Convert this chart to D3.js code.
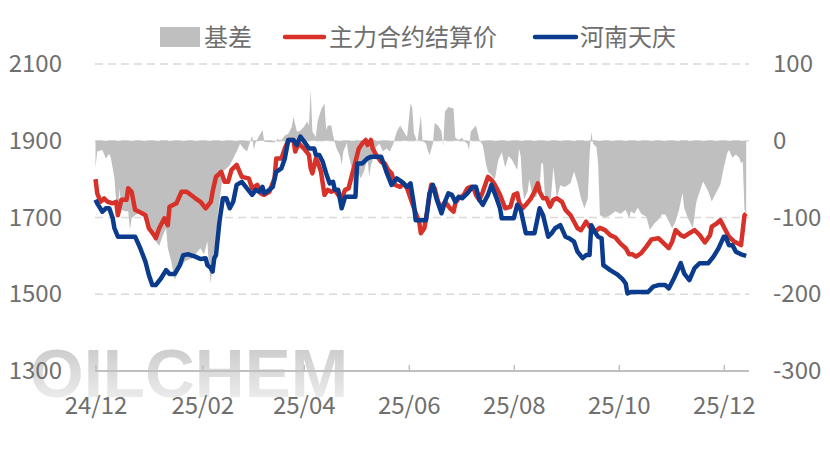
<!DOCTYPE html>
<html>
<head>
<meta charset="utf-8">
<script src="https://cdn.jsdelivr.net/npm/d3@7"></script>
<style>
  html, body { margin: 0; padding: 0; background: #fff; }
  svg { display: block; font-family: "Noto Sans CJK SC", "Noto Sans", sans-serif; }
</style>
</head>
<body>
<svg id="chart" width="830" height="451"></svg>
<script>
// 系列名称
const seriesNames = ["基差", "主力合约结算价", "河南天庆"];

// 基差 (right axis)
const basis = [
  ["2024-12-02",-35],["2024-12-03",-14],["2024-12-06",-12],["2024-12-08",-23],["2024-12-10",-17],
  ["2024-12-11",-23],["2024-12-13",-49],["2024-12-14",-79],["2024-12-15",-97],["2024-12-16",-62],
  ["2024-12-17",-90],["2024-12-19",-92],["2024-12-21",-92],["2024-12-22",-116],["2024-12-23",-101],
  ["2024-12-25",-97],["2024-12-29",-92],["2024-12-31",-105],["2025-01-03",-118],["2025-01-06",-131],
  ["2025-01-08",-137],["2025-01-10",-124],["2025-01-12",-114],["2025-01-13",-140],["2025-01-15",-157],
  ["2025-01-17",-181],["2025-01-20",-168],["2025-01-23",-157],["2025-01-27",-153],["2025-02-01",-140],
  ["2025-02-03",-148],["2025-02-05",-131],["2025-02-06",-166],["2025-02-07",-186],["2025-02-08",-157],
  ["2025-02-10",-131],["2025-02-11",-97],["2025-02-13",-62],["2025-02-14",-40],["2025-02-16",-36],
  ["2025-02-18",-32],["2025-02-20",-23],["2025-02-22",-14],["2025-02-24",-4],["2025-02-26",-10],
  ["2025-02-28",-14],["2025-03-02",0],["2025-03-03",7],["2025-03-04",-12],["2025-03-05",-2],
  ["2025-03-09",14],["2025-03-10",-1],["2025-03-13",-2],["2025-03-16",-2],["2025-03-18",3],
  ["2025-03-19",-2],["2025-03-22",7],["2025-03-24",9],["2025-03-26",18],["2025-03-27",31],
  ["2025-03-29",12],["2025-03-31",13],["2025-04-02",18],["2025-04-04",25],["2025-04-05",20],
  ["2025-04-06",66],["2025-04-07",12],["2025-04-09",5],["2025-04-10",25],["2025-04-12",40],
  ["2025-04-14",49],["2025-04-15",14],["2025-04-16",20],["2025-04-18",20],["2025-04-19",7],
  ["2025-04-21",-10],["2025-04-23",-19],["2025-04-24",-32],["2025-04-25",-14],["2025-04-27",-3],
  ["2025-04-28",-19],["2025-04-30",-36],["2025-05-01",-62],["2025-05-02",-79],["2025-05-03",-36],
  ["2025-05-05",-49],["2025-05-07",-40],["2025-05-09",-23],["2025-05-10",-47],["2025-05-11",-32],
  ["2025-05-13",-19],["2025-05-14",-8],["2025-05-16",-4],["2025-05-18",-14],["2025-05-20",-10],
  ["2025-05-22",-14],["2025-05-24",-4],["2025-05-26",12],["2025-05-28",20],["2025-05-30",12],
  ["2025-06-01",5],["2025-06-03",49],["2025-06-04",43],["2025-06-05",10],["2025-06-07",-2],
  ["2025-06-09",33],["2025-06-10",0],["2025-06-12",-4],["2025-06-13",-12],["2025-06-14",-19],
  ["2025-06-16",-4],["2025-06-17",23],["2025-06-19",20],["2025-06-21",12],["2025-06-22",-7],
  ["2025-06-23",38],["2025-06-25",44],["2025-06-28",42],["2025-06-29",4],["2025-07-01",1],
  ["2025-07-03",4],["2025-07-04",0],["2025-07-06",-4],["2025-07-07",-12],["2025-07-08",12],
  ["2025-07-11",20],["2025-07-13",1],["2025-07-15",-6],["2025-07-17",-32],["2025-07-18",-40],
  ["2025-07-20",-45],["2025-07-22",-50],["2025-07-24",-25],["2025-07-26",-15],["2025-07-28",-35],
  ["2025-07-30",-20],["2025-08-01",-25],["2025-08-04",-38],["2025-08-05",-10],["2025-08-06",-20],
  ["2025-08-07",-60],["2025-08-08",-77],["2025-08-10",-66],["2025-08-11",-50],["2025-08-13",-75],
  ["2025-08-15",-73],["2025-08-17",-60],["2025-08-18",-29],["2025-08-19",-30],["2025-08-20",-70],
  ["2025-08-22",-85],["2025-08-23",-90],["2025-08-25",-34],["2025-08-27",-75],["2025-08-29",-58],
  ["2025-08-31",-60],["2025-09-01",-60],["2025-09-04",-55],["2025-09-06",-40],["2025-09-08",-55],
  ["2025-09-10",-75],["2025-09-12",-88],["2025-09-14",-75],["2025-09-15",-20],["2025-09-16",12],
  ["2025-09-17",-4],["2025-09-19",-8],["2025-09-20",-30],["2025-09-21",-97],["2025-09-24",-100],
  ["2025-09-27",-97],["2025-09-30",-92],["2025-10-03",-95],["2025-10-06",-90],["2025-10-08",-101],
  ["2025-10-09",-92],["2025-10-11",-95],["2025-10-13",-87],["2025-10-15",-95],["2025-10-18",-99],
  ["2025-10-20",-116],["2025-10-23",-107],["2025-10-25",-103],["2025-10-27",-96],["2025-10-29",-96],
  ["2025-10-31",-105],["2025-11-02",-114],["2025-11-04",-105],["2025-11-06",-90],["2025-11-08",-68],
  ["2025-11-09",-88],["2025-11-11",-100],["2025-11-14",-114],["2025-11-16",-80],["2025-11-18",-66],
  ["2025-11-20",-53],["2025-11-23",-66],["2025-11-25",-79],["2025-11-27",-70],["2025-11-30",-57],
  ["2025-12-02",-35],["2025-12-04",-16],["2025-12-05",-12],["2025-12-07",-22],["2025-12-09",-18],
  ["2025-12-11",-22],["2025-12-12",-29],["2025-12-13",-27],["2025-12-14",-90],["2025-12-15",-95]
];

// 主力合约结算价 (left axis)
const futures = [
  ["2024-12-02",1800],["2024-12-03",1763],["2024-12-05",1741],["2024-12-07",1750],["2024-12-09",1741],
  ["2024-12-12",1737],["2024-12-14",1741],["2024-12-15",1706],["2024-12-17",1746],["2024-12-20",1746],
  ["2024-12-21",1776],["2024-12-23",1767],["2024-12-25",1720],["2024-12-29",1711],["2024-12-31",1706],
  ["2025-01-02",1672],["2025-01-05",1654],["2025-01-06",1646],["2025-01-08",1672],["2025-01-11",1698],
  ["2025-01-13",1680],["2025-01-14",1728],["2025-01-18",1737],["2025-01-21",1767],["2025-01-24",1767],
  ["2025-01-29",1750],["2025-02-01",1741],["2025-02-04",1724],["2025-02-07",1741],["2025-02-08",1767],
  ["2025-02-10",1806],["2025-02-13",1819],["2025-02-15",1793],["2025-02-17",1793],["2025-02-19",1824],
  ["2025-02-22",1837],["2025-02-25",1806],["2025-03-01",1802],["2025-03-03",1776],["2025-03-06",1785],
  ["2025-03-08",1763],["2025-03-10",1759],["2025-03-13",1767],["2025-03-16",1802],["2025-03-17",1854],
  ["2025-03-20",1854],["2025-03-22",1880],["2025-03-24",1902],["2025-03-27",1902],["2025-03-28",1872],
  ["2025-03-30",1893],["2025-04-02",1880],["2025-04-05",1863],["2025-04-06",1828],["2025-04-07",1815],
  ["2025-04-09",1854],["2025-04-10",1845],["2025-04-12",1819],["2025-04-14",1759],["2025-04-16",1772],
  ["2025-04-18",1767],["2025-04-20",1772],["2025-04-22",1759],["2025-04-24",1750],["2025-04-26",1772],
  ["2025-04-28",1776],["2025-05-01",1828],["2025-05-04",1880],["2025-05-06",1893],["2025-05-08",1902],
  ["2025-05-09",1889],["2025-05-11",1902],["2025-05-12",1880],["2025-05-14",1863],["2025-05-17",1845],
  ["2025-05-19",1841],["2025-05-21",1824],["2025-05-23",1815],["2025-05-25",1785],["2025-05-28",1780],
  ["2025-05-30",1789],["2025-06-01",1776],["2025-06-03",1750],["2025-06-05",1724],["2025-06-08",1689],
  ["2025-06-09",1659],["2025-06-11",1672],["2025-06-13",1724],["2025-06-15",1785],["2025-06-17",1776],
  ["2025-06-19",1741],["2025-06-21",1724],["2025-06-23",1741],["2025-06-26",1724],["2025-06-28",1715],
  ["2025-06-29",1737],["2025-07-01",1750],["2025-07-04",1759],["2025-07-06",1776],["2025-07-08",1780],
  ["2025-07-10",1772],["2025-07-11",1759],["2025-07-13",1746],["2025-07-15",1767],["2025-07-18",1806],
  ["2025-07-20",1798],["2025-07-22",1785],["2025-07-25",1759],["2025-07-28",1724],["2025-07-31",1728],
  ["2025-08-02",1759],["2025-08-04",1763],["2025-08-05",1741],["2025-08-07",1724],["2025-08-09",1733],
  ["2025-08-12",1750],["2025-08-14",1767],["2025-08-16",1789],["2025-08-17",1767],["2025-08-19",1750],
  ["2025-08-21",1750],["2025-08-23",1728],["2025-08-25",1746],["2025-08-27",1750],["2025-08-30",1741],
  ["2025-09-01",1720],["2025-09-04",1706],["2025-09-06",1689],["2025-09-08",1672],["2025-09-10",1667],
  ["2025-09-13",1689],["2025-09-15",1676],["2025-09-18",1663],["2025-09-21",1673],["2025-09-24",1667],
  ["2025-09-27",1654],["2025-09-30",1648],["2025-10-03",1632],["2025-10-06",1620],["2025-10-08",1604],
  ["2025-10-10",1604],["2025-10-12",1598],["2025-10-15",1607],["2025-10-18",1624],["2025-10-21",1643],
  ["2025-10-25",1646],["2025-10-28",1633],["2025-10-31",1620],["2025-11-02",1637],["2025-11-04",1667],
  ["2025-11-07",1654],["2025-11-09",1650],["2025-11-12",1659],["2025-11-15",1667],["2025-11-18",1654],
  ["2025-11-21",1635],["2025-11-24",1654],["2025-11-25",1676],["2025-11-28",1685],["2025-11-30",1693],
  ["2025-12-03",1667],["2025-12-05",1650],["2025-12-08",1637],["2025-12-10",1633],["2025-12-12",1628],
  ["2025-12-14",1706],["2025-12-15",1710]
];

// 河南天庆 (left axis)
const spot = [
  ["2024-12-02",1746],["2024-12-03",1737],["2024-12-06",1715],["2024-12-08",1724],["2024-12-10",1724],
  ["2024-12-12",1698],["2024-12-13",1672],["2024-12-15",1650],["2024-12-25",1650],["2024-12-28",1620],
  ["2024-12-31",1585],["2025-01-02",1550],["2025-01-04",1524],["2025-01-06",1524],["2025-01-09",1541],
  ["2025-01-12",1563],["2025-01-14",1553],["2025-01-17",1553],["2025-01-20",1576],["2025-01-22",1602],
  ["2025-01-25",1604],["2025-01-29",1598],["2025-02-01",1592],["2025-02-04",1594],["2025-02-05",1576],
  ["2025-02-07",1568],["2025-02-08",1559],["2025-02-09",1594],["2025-02-10",1602],["2025-02-12",1689],
  ["2025-02-14",1750],["2025-02-16",1750],["2025-02-18",1724],["2025-02-20",1741],["2025-02-22",1785],
  ["2025-02-25",1793],["2025-02-28",1776],["2025-03-03",1759],["2025-03-05",1772],["2025-03-07",1767],
  ["2025-03-09",1780],["2025-03-10",1763],["2025-03-13",1772],["2025-03-15",1780],["2025-03-17",1819],
  ["2025-03-20",1828],["2025-03-22",1854],["2025-03-24",1902],["2025-03-27",1902],["2025-03-29",1889],
  ["2025-03-31",1911],["2025-04-03",1893],["2025-04-05",1880],["2025-04-08",1880],["2025-04-09",1863],
  ["2025-04-11",1863],["2025-04-13",1845],["2025-04-15",1815],["2025-04-17",1789],["2025-04-19",1793],
  ["2025-04-20",1772],["2025-04-22",1772],["2025-04-24",1724],["2025-04-26",1754],["2025-05-02",1754],
  ["2025-05-03",1841],["2025-05-06",1841],["2025-05-09",1854],["2025-05-11",1858],["2025-05-17",1858],
  ["2025-05-20",1819],["2025-05-23",1785],["2025-05-26",1802],["2025-05-29",1793],["2025-06-01",1780],
  ["2025-06-03",1789],["2025-06-05",1733],["2025-06-06",1693],["2025-06-12",1693],["2025-06-14",1763],
  ["2025-06-16",1785],["2025-06-18",1750],["2025-06-21",1711],["2025-06-23",1741],["2025-06-25",1763],
  ["2025-06-27",1759],["2025-06-29",1741],["2025-07-01",1754],["2025-07-03",1750],["2025-07-06",1763],
  ["2025-07-09",1780],["2025-07-11",1780],["2025-07-13",1746],["2025-07-15",1733],["2025-07-18",1759],
  ["2025-07-20",1785],["2025-07-23",1750],["2025-07-25",1724],["2025-07-26",1698],["2025-08-02",1698],
  ["2025-08-04",1733],["2025-08-06",1720],["2025-08-09",1659],["2025-08-14",1659],["2025-08-17",1724],
  ["2025-08-19",1706],["2025-08-22",1650],["2025-08-24",1659],["2025-08-26",1672],["2025-08-29",1680],
  ["2025-09-01",1650],["2025-09-03",1646],["2025-09-06",1637],["2025-09-08",1611],["2025-09-11",1594],
  ["2025-09-13",1602],["2025-09-15",1602],["2025-09-16",1680],["2025-09-18",1663],["2025-09-20",1650],
  ["2025-09-22",1646],["2025-09-23",1576],["2025-09-27",1563],["2025-10-01",1552],["2025-10-04",1540],
  ["2025-10-06",1528],["2025-10-07",1502],["2025-10-09",1506],["2025-10-19",1506],["2025-10-22",1520],
  ["2025-10-25",1524],["2025-10-29",1524],["2025-10-31",1515],["2025-11-03",1541],["2025-11-07",1581],
  ["2025-11-09",1554],["2025-11-12",1537],["2025-11-15",1568],["2025-11-18",1581],["2025-11-23",1581],
  ["2025-11-26",1598],["2025-11-29",1620],["2025-12-02",1650],["2025-12-03",1650],["2025-12-05",1628],
  ["2025-12-07",1628],["2025-12-09",1611],["2025-12-12",1604],["2025-12-15",1600]
];

const leftTicks = [1300, 1500, 1700, 1900, 2100];
const rightTicks = [-300, -200, -100, 0, 100];
const xTickDates = ["2024-12-02","2025-02-02","2025-04-02","2025-06-02","2025-08-02","2025-10-02","2025-12-02"];
const xDomain = ["2024-12-02", "2025-12-15"];

const parse = d3.timeParse("%Y-%m-%d");
const svg = d3.select("#chart");

const plot = { left: 95, right: 749, top: 64, bottom: 371 };
const textColor = "#6f6f6f";
const fontSize = 24;

const x = d3.scaleTime()
    .domain(xDomain.map(parse))
    .range([95.5, 746.2]);
const yL = d3.scaleLinear().domain([1300, 2100]).range([plot.bottom, plot.top]);
const yR = d3.scaleLinear().domain([-300, 100]).range([plot.bottom, plot.top]);

// watermark
const defs = svg.append("defs");
const wm = defs.append("linearGradient")
    .attr("id", "wm").attr("x1", 0).attr("y1", 0).attr("x2", 0).attr("y2", 1);
wm.append("stop").attr("offset", "0%").attr("stop-color", "#c4c4c4");
wm.append("stop").attr("offset", "100%").attr("stop-color", "#f4f4f4");
svg.append("text")
    .attr("x", 30).attr("y", 397)
    .attr("font-family", "Liberation Sans, Arial, sans-serif")
    .attr("font-weight", "bold")
    .attr("font-size", 69)
    .attr("fill", "url(#wm)")
    .text("OILCHEM");

// grid lines
svg.append("g")
  .selectAll("line")
  .data(leftTicks.filter(d => d !== 1300))
  .enter().append("line")
    .attr("x1", plot.left).attr("x2", plot.right)
    .attr("y1", d => yL(d)).attr("y2", d => yL(d))
    .attr("stroke", "#d9d9d9")
    .attr("stroke-width", 1.5)
    .attr("stroke-dasharray", "8,5");

// basis area
const area = d3.area()
    .x(d => x(parse(d[0])))
    .y0(yR(0))
    .y1(d => yR(d[1]));
svg.append("path")
    .datum(basis)
    .attr("d", area)
    .attr("fill", "#bfbfbf");

// x axis
const xAxis = svg.append("g")
    .attr("transform", `translate(0,${plot.bottom})`)
    .call(d3.axisBottom(x)
      .tickValues(xTickDates.map(parse))
      .tickFormat(d3.timeFormat("%y/%m"))
      .tickSizeInner(-6)
      .tickSizeOuter(0)
      .tickPadding(26));
xAxis.select(".domain")
    .attr("d", `M${plot.left},0H${plot.right}`)
    .attr("stroke", "#bfbfbf").attr("stroke-width", 2);
xAxis.selectAll(".tick line").attr("stroke", "#bfbfbf").attr("stroke-width", 1.5);
xAxis.selectAll("text")
    .attr("fill", textColor)
    .attr("font-size", fontSize)
    .attr("font-family", "Noto Sans CJK SC");

// lines
const line = (ys) => d3.line()
    .x(d => x(parse(d[0])))
    .y(d => ys(d[1]));

svg.append("path")
    .datum(futures)
    .attr("d", line(yL))
    .attr("fill", "none")
    .attr("stroke", "#d7322a")
    .attr("stroke-width", 4.5)
    .attr("stroke-linejoin", "round");

svg.append("path")
    .datum(spot)
    .attr("d", line(yL))
    .attr("fill", "none")
    .attr("stroke", "#0b3b8c")
    .attr("stroke-width", 4.5)
    .attr("stroke-linejoin", "round");

// left axis
const leftAxis = svg.append("g")
    .attr("transform", `translate(${plot.left},0)`)
    .call(d3.axisLeft(yL).tickValues(leftTicks).tickSize(0).tickPadding(33)
      .tickFormat(d => String(d)));
leftAxis.select(".domain").remove();
leftAxis.selectAll("text")
    .attr("fill", textColor)
    .attr("font-size", fontSize)
    .attr("font-family", "Noto Sans CJK SC");

// right axis
const rightAxis = svg.append("g")
    .attr("transform", `translate(${plot.right},0)`)
    .call(d3.axisRight(yR).tickValues(rightTicks).tickSize(0).tickPadding(24)
      .tickFormat(d => String(d)));
rightAxis.select(".domain").remove();
rightAxis.selectAll("text")
    .attr("fill", textColor)
    .attr("font-size", fontSize)
    .attr("font-family", "Noto Sans CJK SC");

// legend
const legend = svg.append("g")
    .attr("font-size", fontSize)
    .attr("fill", textColor);
legend.append("rect")
    .attr("x", 160).attr("y", 27).attr("width", 40).attr("height", 20)
    .attr("fill", "#bfbfbf");
legend.append("text").attr("x", 204).attr("y", 46).text(seriesNames[0]);
legend.append("line")
    .attr("x1", 285).attr("x2", 324).attr("y1", 37).attr("y2", 37)
    .attr("stroke", "#d7322a").attr("stroke-width", 4.5).attr("stroke-linecap", "round");
legend.append("text").attr("x", 329).attr("y", 46).text(seriesNames[1]);
legend.append("line")
    .attr("x1", 535).attr("x2", 576).attr("y1", 37).attr("y2", 37)
    .attr("stroke", "#0b3b8c").attr("stroke-width", 4.5).attr("stroke-linecap", "round");
legend.append("text").attr("x", 580).attr("y", 46).text(seriesNames[2]);
</script>
</body>
</html>
